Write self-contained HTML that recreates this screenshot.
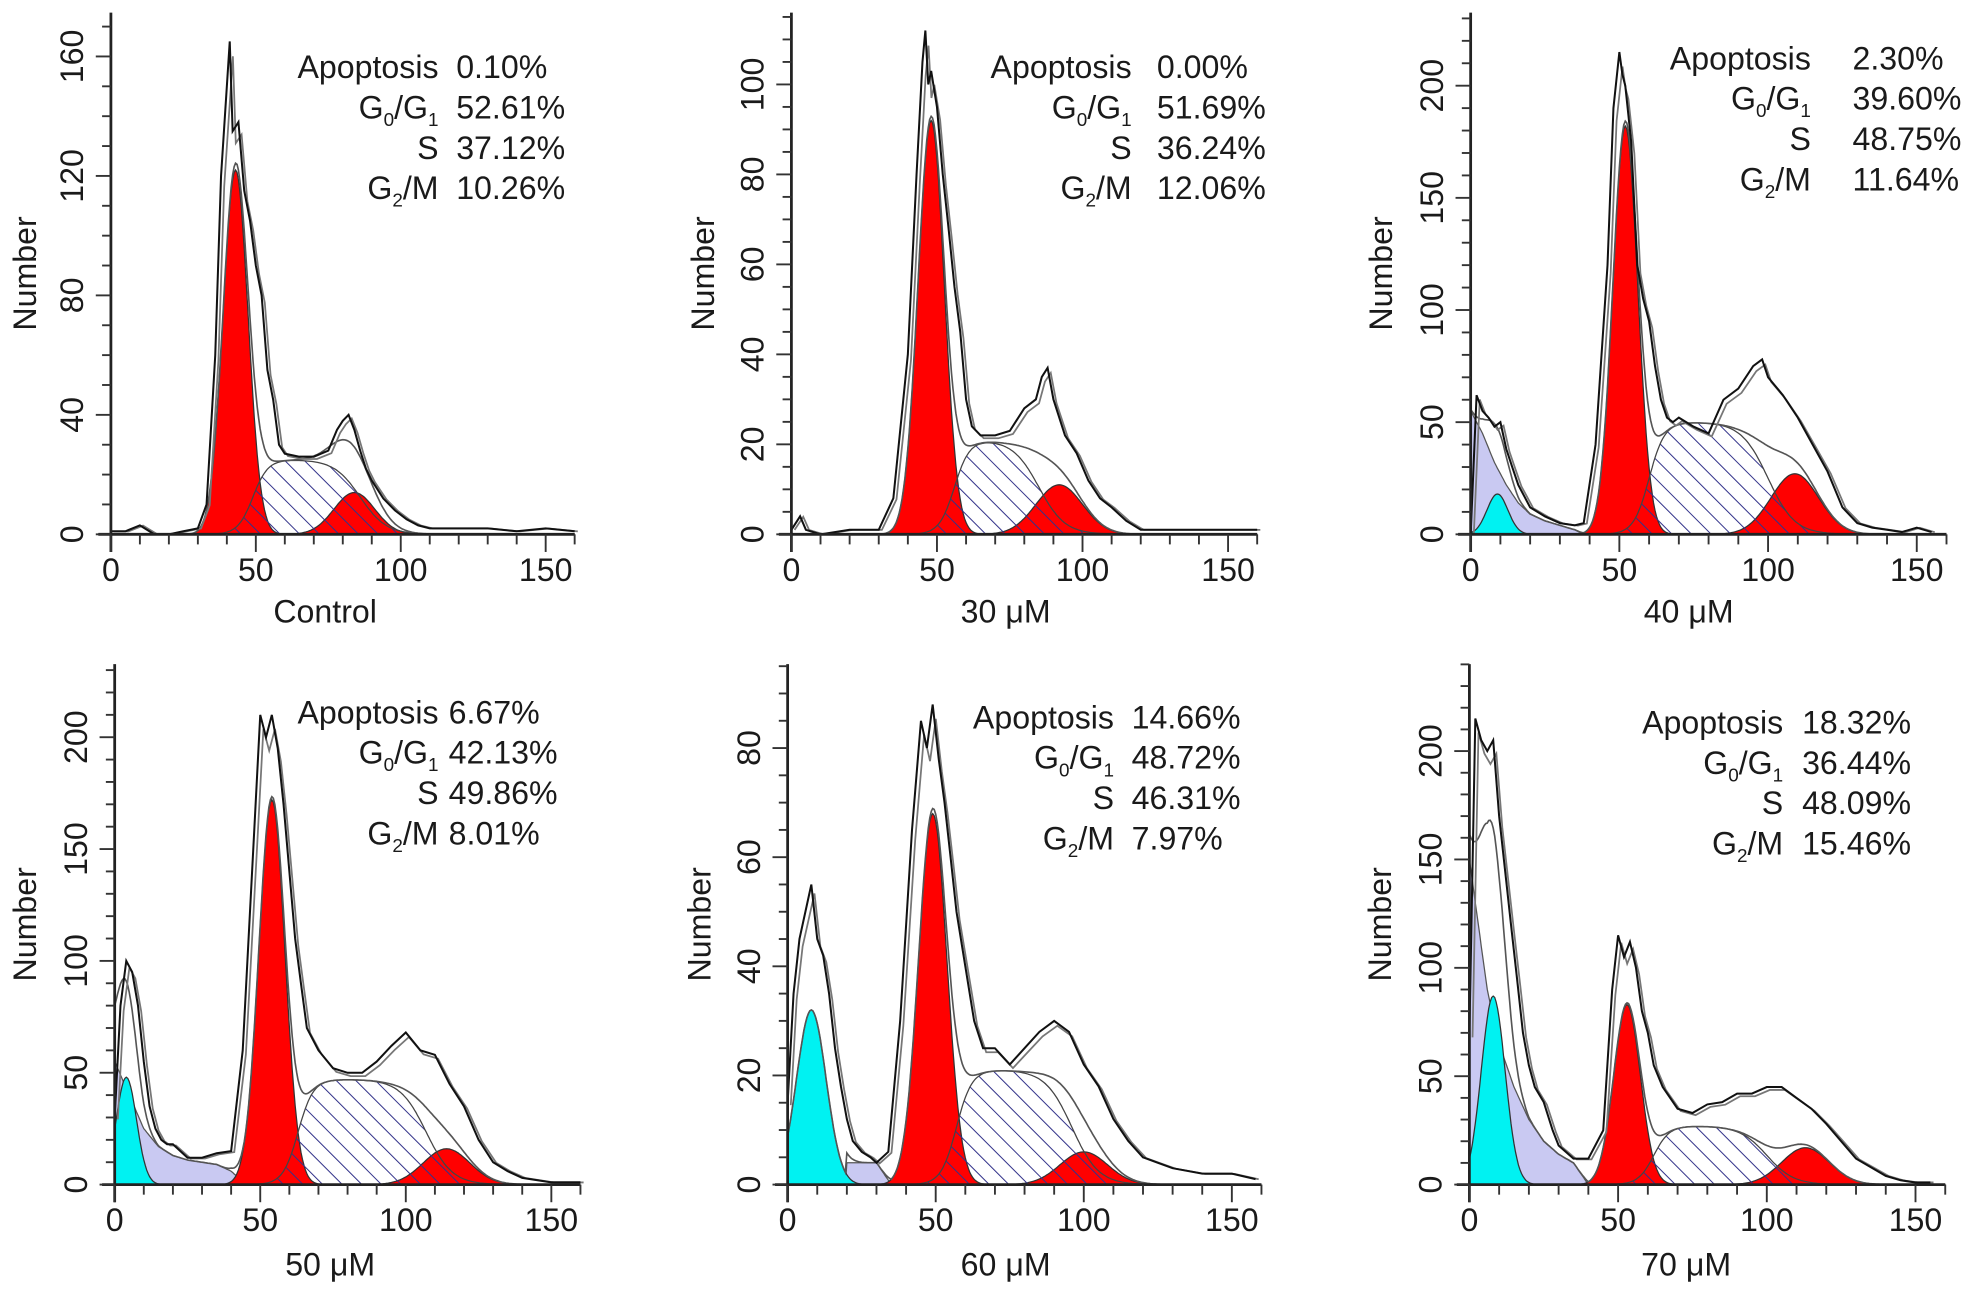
<!DOCTYPE html>
<html><head><meta charset="utf-8"><style>
html,body{margin:0;padding:0;background:#fff}
svg{display:block}
text{font-family:"Liberation Sans",Arial,sans-serif;fill:#1a1a1a}
</style></head><body>
<svg id="fig" width="1976" height="1298" viewBox="0 0 1568 1030" xmlns="http://www.w3.org/2000/svg">
<defs>
<pattern id="hatch" patternUnits="userSpaceOnUse" width="11" height="11" patternTransform="rotate(-45)">
<line x1="0" y1="0" x2="0" y2="11" stroke="#33338a" stroke-width="1.6"/>
</pattern>
</defs>
</svg>
<script>
// ---------- data (channel vs count) ----------
const titles = ["Control","30 \u03bcM","40 \u03bcM","50 \u03bcM","60 \u03bcM","70 \u03bcM"];
const statLabels = ["Apoptosis","G0/G1","S","G2/M"];
const statValues = [
 ["0.10%","52.61%","37.12%","10.26%"],
 ["0.00%","51.69%","36.24%","12.06%"],
 ["2.30%","39.60%","48.75%","11.64%"],
 ["6.67%","42.13%","49.86%","8.01%"],
 ["14.66%","48.72%","46.31%","7.97%"],
 ["18.32%","36.44%","48.09%","15.46%"]];
const yTickLabels = [[0,40,80,120,160],[0,20,40,60,80,100],[0,50,100,150,200],[0,50,100,150,200],[0,20,40,60,80],[0,50,100,150,200]];
const xTickLabels = [0,50,100,150];
// raw histograms
const rawX = [
 [0,5,10,15,20,25,30,33,36,38,40,41,42,44,46,48,50,52,54,56,58,60,65,70,75,78,80,82,84,86,88,90,94,98,102,106,110,120,130,140,150,160],
 [0,3,5,10,20,30,35,40,43,45,46,47,48,50,52,54,56,58,60,62,65,70,75,80,84,86,88,90,94,98,102,106,110,115,120,130,140,150,160],
 [0,2,4,6,8,10,12,14,16,20,25,30,35,38,42,46,48,50,51,52,54,56,58,60,62,64,66,68,70,75,80,85,90,95,98,100,105,110,115,120,125,130,135,140,145,150,155],
 [0,2,4,6,8,10,12,14,16,18,20,25,30,35,40,44,48,50,52,54,56,58,60,62,64,66,70,75,80,85,90,95,100,105,110,115,120,125,130,135,140,145,150,160],
 [0,2,4,6,8,10,12,14,16,18,20,22,25,28,30,34,38,42,45,47,49,51,53,55,57,60,63,66,70,75,80,85,90,95,100,105,110,115,120,125,130,140,150,158],
 [0,2,4,6,8,10,12,14,16,18,20,22,25,28,30,35,40,45,48,50,52,54,56,58,60,62,65,70,75,80,85,90,95,100,105,110,115,120,125,130,135,140,145,150,155]];
const rawY = [
 [1,1,3,0,0,1,2,10,60,120,150,165,135,138,115,105,90,80,55,45,30,27,26,26,28,35,38,40,35,28,22,18,12,8,5,3,2,2,2,1,2,1],
 [1,4,1,0,1,1,8,40,80,105,112,100,103,95,80,68,55,45,30,24,22,22,23,28,30,35,37,30,22,18,12,8,6,3,1,1,1,1,1],
 [0,62,55,52,48,50,38,30,22,12,8,5,4,5,40,120,190,215,205,200,175,120,105,95,75,60,52,50,52,48,45,60,65,75,78,70,62,52,40,28,12,5,3,2,1,3,1],
 [30,80,100,95,80,55,35,25,20,18,18,12,12,14,15,60,160,210,200,210,195,170,140,110,90,70,60,52,50,50,55,62,68,60,58,45,35,20,10,6,3,2,1,1],
 [15,35,45,50,55,45,42,35,25,18,12,8,6,5,4,6,30,65,85,80,88,78,70,60,50,40,30,25,25,22,25,28,30,28,22,18,12,8,5,4,3,2,2,1],
 [70,215,205,200,205,170,145,120,95,70,55,45,38,25,18,12,12,25,90,115,105,112,100,80,70,55,45,35,33,37,38,42,42,45,45,40,35,28,20,12,8,4,2,1,1]];
// fitted components: [mean, height, sd]
const g1Fit = [[43,122,4.3],[48,92,4.5],[52,182,4.2],[54,172,4.5],[49,68,4.8],[53,83,4.5]];
const g2Fit = [[84,14,7],[92,11,8],[109,27,8],[114,16,8],[100,6,8],[113,17,8]];
const apoFit = [null,null,[9,18,3.5],[4,48,3.5],[8,32,5],[8,87,4]];
// S phase: [height, rise centre, fall centre]
const sFit = [[25,49,86],[21,56,85],[50,60,100],[47,63,107],[21,57,96],[27,62,100]];
// debris (lavender)
const debrisX = [[],[],[0,4,8,12,16,20,25,30,35,38],[0,5,10,15,20,25,30,35,40,45],[20,25,30,35],[0,3,6,10,15,20,25,30,35,40]];
const debrisY = [[],[],[55,45,32,22,14,9,6,4,2,0],[55,40,25,17,13,11,10,9,6,0],[4,4,4,0],[150,120,90,65,45,30,20,14,10,0]];

// ---------- layout ----------
const L = [
 {ox:88,kx:2.30,y0:424,ky:2.37,top:10,minor:10,tx:348,vx:362,ty:53,titleX:258,titleY:494,numX:22},
 {ox:628,kx:2.31,y0:424,ky:3.57,top:10,minor:5,tx:898,vx:918,ty:53,titleX:798,titleY:494,numX:560},
 {ox:1167,kx:2.36,y0:424,ky:1.78,top:10,minor:10,tx:1437,vx:1470,ty:46,titleX:1340,titleY:494,numX:1098},
 {ox:91,kx:2.31,y0:940,ky:1.775,top:527,minor:10,tx:348,vx:356,ty:565,titleX:262,titleY:1012,numX:22},
 {ox:625,kx:2.35,y0:940,ky:4.33,top:527,minor:5,tx:884,vx:898,ty:569,titleX:798,titleY:1012,numX:557},
 {ox:1166,kx:2.36,y0:940,ky:1.72,top:527,minor:10,tx:1415,vx:1430,ty:573,titleX:1338,titleY:1012,numX:1097}];

const FS=25.5;
const NS="http://www.w3.org/2000/svg";
const svg=document.getElementById('fig');
function mk(tag,attrs,parent){const e=document.createElementNS(NS,tag);for(const k in attrs)e.setAttribute(k,attrs[k]);parent.appendChild(e);return e;}
function gauss(p,x){return p?p[1]*Math.exp(-0.5*Math.pow((x-p[0])/p[2],2)):0;}
function sig(z){return 1/(1+Math.exp(-z));}
function sval(p,x){return p[0]*sig((x-p[1])/2.6)*sig((p[2]-x)/4.5);}
function interp(xs,ys,x){if(!xs.length||x<xs[0]||x>xs[xs.length-1])return 0;for(let i=1;i<xs.length;i++){if(x<=xs[i]){const t=(x-xs[i-1])/(xs[i]-xs[i-1]);return ys[i-1]+t*(ys[i]-ys[i-1]);}}return 0;}

for(let p=0;p<6;p++){
 const c=L[p];
 const X=v=>c.ox+v*c.kx, Y=v=>c.y0-v*c.ky;
 const g=mk('g',{},svg);
 
 
 const samp=[];for(let x=0;x<=160;x+=0.5)samp.push(x);
 function area(fn,fill,stroke,name){
   let d='M'+X(0)+','+Y(0);
   samp.forEach(x=>{d+=' L'+X(x).toFixed(1)+','+Y(Math.max(0,fn(x))).toFixed(1);});
   d+=' L'+X(160)+','+Y(0)+'Z';
   const e=mk('path',{d:d,fill:fill,stroke:stroke,'stroke-width':1},g);
   
   
   return e;
 }
 if(debrisX[p].length){area(x=>interp(debrisX[p],debrisY[p],x),'#c9c9f2','#555','debris-area');}
 area(x=>sval(sFit[p],x),'#fff','none','s-phase-base');
 if(apoFit[p]){area(x=>gauss(apoFit[p],x),'#00f2f2','#333','apoptosis-peak');}
 area(x=>gauss(g1Fit[p],x),'#ff0000','#333','g0g1-peak');
 area(x=>gauss(g2Fit[p],x),'#ff0000','#333','g2m-peak');
 area(x=>sval(sFit[p],x),'url(#hatch)','#444','s-phase-area');
 let dfit='';
 samp.forEach((x,i)=>{const v=gauss(g1Fit[p],x)+gauss(g2Fit[p],x)+sval(sFit[p],x)+gauss(apoFit[p],x)+interp(debrisX[p],debrisY[p],x);dfit+=(i?' L':'M')+X(x).toFixed(1)+','+Y(v).toFixed(1);});
 const fl=mk('path',{d:dfit,fill:'none',stroke:'#555','stroke-width':1.3},g);
 
 
 let dr='',dr2='';
 rawX[p].forEach((x,i)=>{dr+=(i?' L':'M')+X(x).toFixed(1)+','+Y(rawY[p][i]).toFixed(1);dr2+=(i?' L':'M')+(X(x)+2.5).toFixed(1)+','+(Y(rawY[p][i]*0.97)).toFixed(1);});
 const r2=mk('path',{d:dr2,fill:'none',stroke:'#777','stroke-width':1.4},g);
 
 
 const r=mk('path',{d:dr,fill:'none',stroke:'#111','stroke-width':1.6},g);
 
 
 const ya=mk('line',{x1:X(0),y1:c.top,x2:X(0),y2:c.y0+14,stroke:'#222','stroke-width':2.2},g);
 
 
 const xa=mk('line',{x1:X(0)-10,y1:c.y0,x2:X(160),y2:c.y0,stroke:'#222','stroke-width':2.2},g);
 
 
 const ymaxv=(c.y0-c.top)/c.ky;
 for(let v=0;v<=ymaxv;v+=c.minor){const major=yTickLabels[p].indexOf(v)>=0;mk('line',{x1:X(0)-(major?12:7),y1:Y(v),x2:X(0),y2:Y(v),stroke:'#333','stroke-width':1.5},g);}
 for(let v=0;v<=160;v+=10){const major=v%50===0;mk('line',{x1:X(v),y1:c.y0,x2:X(v),y2:c.y0+(major?14:8),stroke:'#333','stroke-width':1.5},g);}
 yTickLabels[p].forEach(v=>{const t=mk('text',{x:0,y:0,transform:'translate('+(X(0)-22)+','+Y(v)+') rotate(-90)','text-anchor':'middle','font-size':FS},g);t.textContent=v;
  
  });
 xTickLabels.forEach(v=>{const t=mk('text',{x:X(v),y:c.y0+37,'text-anchor':'middle','font-size':FS},g);t.textContent=v;
  
  });
 const yt=mk('text',{x:0,y:0,transform:'translate('+c.numX+','+((c.top+c.y0)/2)+') rotate(-90)','text-anchor':'middle','font-size':FS,'dominant-baseline':'middle'},g);
 yt.textContent='Number';
 
 
 const tt=mk('text',{x:c.titleX,y:c.titleY,'text-anchor':'middle','font-size':FS},g);
 tt.textContent=titles[p];
 
 
 statLabels.forEach((lab,i)=>{
   const yy=c.ty+i*32+9;
   const t=mk('text',{x:c.tx,y:yy,'text-anchor':'end','font-size':FS},g);
   if(lab==='G0/G1'){t.innerHTML='G<tspan font-size="15" dy="6">0</tspan><tspan dy="-6">/G</tspan><tspan font-size="15" dy="6">1</tspan>';}
   else if(lab==='G2/M'){t.innerHTML='G<tspan font-size="15" dy="6">2</tspan><tspan dy="-6">/M</tspan>';}
   else t.textContent=lab;
   
   
   const v=mk('text',{x:c.vx,y:yy,'font-size':FS},g);
   v.textContent=statValues[p][i];
   
   
 });
}
</script>
</body></html>
